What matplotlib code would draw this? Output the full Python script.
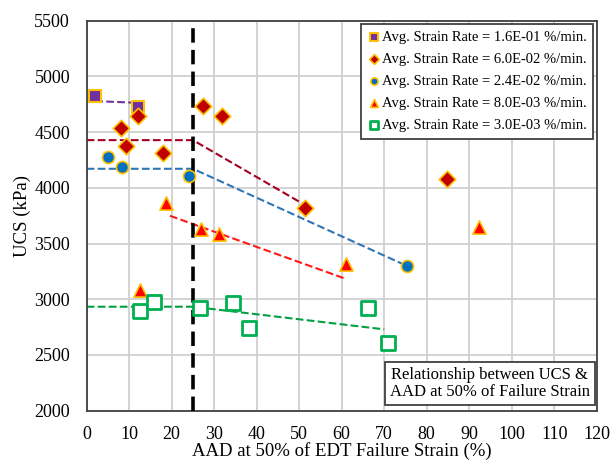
import matplotlib.pyplot as plt
import numpy as np

plt.rcParams['font.family'] = ['Liberation Serif', 'DejaVu Serif']

# data
aad_160 = [2.0, 12.1]
ucs_160 = [4823, 4724]

aad_060 = [8.0, 9.2, 12.1, 17.9, 27.3, 31.8, 51.4, 84.7]
ucs_060 = [4539, 4374, 4643, 4314, 4736, 4643, 3815, 4078]

aad_024 = [4.9, 8.2, 24.1, 75.3]
ucs_024 = [4273, 4183, 4108, 3298]

aad_008 = [18.7, 12.6, 26.8, 31.2, 60.9, 92.4]
ucs_008 = [3860, 3083, 3627, 3582, 3316, 3650]

aad_003 = [12.6, 15.8, 26.7, 34.5, 38.2, 66.3, 71.0]
ucs_003 = [2894, 2978, 2918, 2963, 2739, 2924, 2610]

# trend lines (dashed)
trend_160_x = [2.0, 12.1]
trend_160_y = [4778, 4763]
trend_060_x = [0, 25, 51.4]
trend_060_y = [4428, 4428, 3845]
trend_024_x = [0, 25, 75.3]
trend_024_y = [4171, 4171, 3300]
trend_008_x = [19.6, 60.9]
trend_008_y = [3749, 3184]
trend_003_x = [0, 25, 70.0]
trend_003_y = [2933, 2933, 2730]

x_cut = 25

labels = [
    "Avg. Strain Rate = 1.6E-01 %/min.",
    "Avg. Strain Rate = 6.0E-02 %/min.",
    "Avg. Strain Rate = 2.4E-02 %/min.",
    "Avg. Strain Rate = 8.0E-03 %/min.",
    "Avg. Strain Rate = 3.0E-03 %/min.",
]

gold = "#FFC000"

fig = plt.figure(figsize=(6.13, 4.63), dpi=100)
ax = fig.add_axes([0.1414, 0.113, 0.832, 0.8423])

ax.plot(trend_160_x, trend_160_y, "--", color="#7030A0", lw=1.5, zorder=2)
ax.plot(trend_060_x, trend_060_y, "--", color="#A50021", lw=1.5, zorder=2)
ax.plot(trend_024_x, trend_024_y, "--", color="#2E75B6", lw=1.5, zorder=2)
ax.plot(trend_008_x, trend_008_y, "--", color="#FF1A1A", lw=1.5, zorder=2)
ax.plot(trend_003_x, trend_003_y, "--", color="#00A040", lw=1.5, zorder=2)

ax.axvline(x_cut, color="black", ls=(0, (4, 2)), lw=2.6, zorder=3)

ax.scatter(aad_160, ucs_160, marker="s", s=75, c="#7030A0", edgecolors=gold,
           linewidths=1.5, label=labels[0], zorder=4)
ax.scatter(aad_060, ucs_060, marker="D", s=70, c="#C00000", edgecolors=gold,
           linewidths=1.2, label=labels[1], zorder=4)
ax.scatter(aad_024, ucs_024, marker="o", s=75, c="#0070C0", edgecolors=gold,
           linewidths=1.2, label=labels[2], zorder=4)
ax.scatter(aad_008, ucs_008, marker="^", s=90, c="#FF0000", edgecolors=gold,
           linewidths=1.2, label=labels[3], zorder=4)
ax.scatter(aad_003, ucs_003, marker="s", s=110, c="white", edgecolors="#00B050",
           linewidths=2.0, label=labels[4], zorder=4)

ax.set_xlim(0, 120)
ax.set_ylim(2000, 5500)
ax.set_xticks(np.arange(0, 121, 10))
ax.set_yticks(np.arange(2000, 5501, 500))
ax.grid(True, color="#D0D0D0", lw=1.3)
ax.set_axisbelow(True)
ax.tick_params(length=0, labelsize=13)
ax.tick_params(axis="x", pad=11)
ax.tick_params(axis="y", pad=12)
for s in ax.spines.values():
    s.set_color("#404040")
    s.set_linewidth(1.3)

ax.set_xlabel("AAD at 50% of EDT Failure Strain (%)", fontsize=13.5, labelpad=-1)
ax.set_ylabel("UCS (kPa)", fontsize=13.5, labelpad=2)

leg = ax.legend(loc="upper right", fontsize=10.5, handletextpad=0.05,
                handlelength=0.9, borderpad=0.45, labelspacing=0.6,
                markerscale=0.6, fancybox=False, framealpha=1,
                borderaxespad=0.25)
leg.get_frame().set_edgecolor("#404040")
leg.get_frame().set_linewidth(1.3)

ax.text(0.79, 0.07, "Relationship between UCS &\nAAD at 50% of Failure Strain",
        transform=ax.transAxes, ha="center", va="center", fontsize=12,
        linespacing=1.1,
        bbox=dict(boxstyle="square,pad=0.3", fc="white", ec="#404040", lw=1.3),
        zorder=5)

fig.savefig("out.png", dpi=100)
